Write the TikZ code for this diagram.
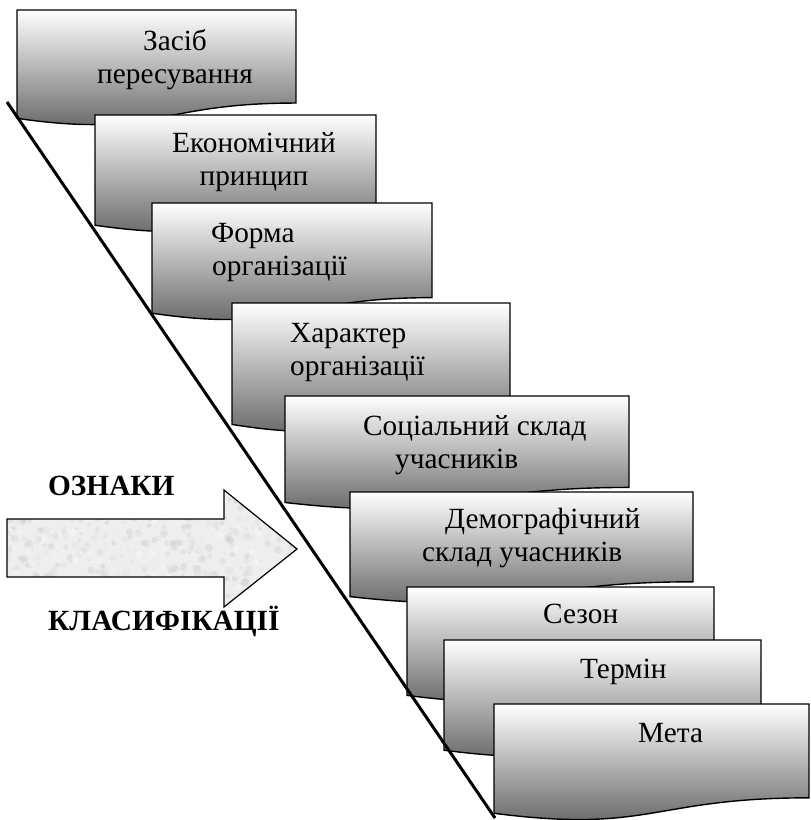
\documentclass[tikz,border=0pt]{standalone}
\usepackage{fontspec}
\setmainfont{Liberation Serif}
\usetikzlibrary{calc}

% flowchart "document" box: left, top, right, height (y grows downwards)
\newcommand\docshape[5]{%
  \path[docbox] (#1,#2) coordinate (#5)
    -- (#3,#2) -- (#3,{#2+0.802*#4})
    .. controls ({(#1+#3)/2},{#2+0.802*#4}) and ({(#1+#3)/2},{#2+1.108*#4}) ..
    (#1,{#2+0.934*#4}) -- cycle;}

\begin{document}
\begin{tikzpicture}[x=1pt,y=-1pt,
  docbox/.style={draw=black, line width=1.4pt, top color=white, bottom color=black!64},
  lbl/.style={inner sep=0pt, anchor=base west, font=\fontsize{29.3}{34}\selectfont},
  clbl/.style={inner sep=0pt, anchor=base, font=\fontsize{29.3}{34}\selectfont},
  blbl/.style={inner sep=0pt, anchor=base west, font=\fontsize{29.3}{34}\selectfont\bfseries},
  slope/.style={line width=3pt, line cap=butt},
  bigarrow/.style={draw=black, line width=1.2pt, line join=miter},
]
\useasboundingbox (0,0) rectangle (811,820);

% classification arrow with a mottled grey fill
\def\arrowpath{(7,519) -- (224,519) -- (224,490) -- (297,549) -- (224,607) -- (224,577) -- (7,577) -- cycle}
\fill[gray!13] \arrowpath;
\begin{scope}
  \clip \arrowpath;
  \pgfmathsetseed{42}
  \foreach \i in {1,...,700}{
    \pgfmathsetmacro\px{7+290*rnd}
    \pgfmathsetmacro\py{490+117*rnd}
    \pgfmathsetmacro\pr{1.2+3.0*rnd}
    \pgfmathsetmacro\pc{24*rnd}
    \fill[black!\pc, opacity=0.35] (\px,\py) circle[radius=\pr];
  }
\end{scope}
\path[bigarrow] \arrowpath;
\coordinate (arrowtip) at (297,549);

\node[blbl] (ozn) at (48,495) {ОЗНАКИ};
\node[blbl] (klas) at (48,630) {КЛАСИФІКАЦІЇ};

% the stair of classification features
\docshape{17}{10}{296}{116}{b1}
\node[clbl] (t1a) at (175,50) {Засіб};
\node[clbl] (t1b) at (175,83) {пересування};

\docshape{95}{115}{376}{118}{b2}
\node[clbl] (t2a) at (254,152) {Економічний};
\node[clbl] (t2b) at (254,185) {принцип};

\docshape{152}{203}{432}{118}{b3}
\node[lbl] (t3a) at (211,242) {Форма};
\node[lbl] (t3b) at (212,275) {організації};

\docshape{232}{303}{510}{130}{b4}
\node[lbl] (t4a) at (290,342) {Характер};
\node[lbl] (t4b) at (290,375) {організації};

\docshape{285}{396}{629}{114}{b5}
\node[lbl] (t5a) at (363,435) {Соціальний склад};
\node[lbl] (t5b) at (395,468) {учасників};

\docshape{350}{492}{693}{112}{b6}
\node[lbl] (t6a) at (445,528) {Демографічний};
\node[lbl] (t6b) at (422,561) {склад учасників};

\docshape{407}{587}{714}{116}{b7}
\node[lbl] (t7) at (543,623) {Сезон};

\docshape{444}{640}{761}{118}{b8}
\node[lbl] (t8) at (580,678) {Термін};

\docshape{494}{704}{809}{117}{b9}
\node[lbl] (t9) at (638,742) {Мета};

% slanted base line touching the lower left corners
\coordinate (s1) at (7,102);
\coordinate (s2) at (495,818);
\draw[slope] (s1) -- (s2);
\end{tikzpicture}
\end{document}
